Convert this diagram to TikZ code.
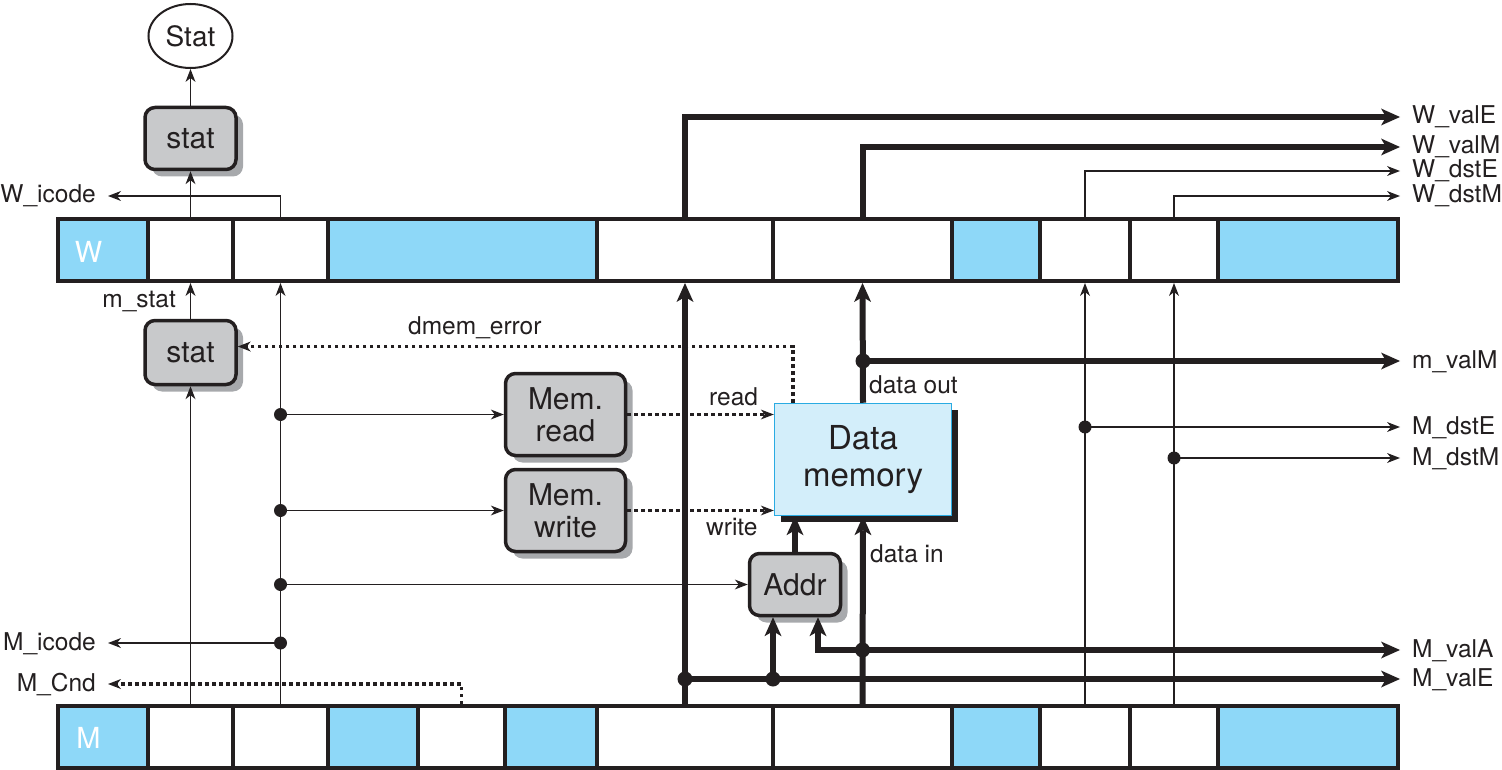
\documentclass[tikz,border=0pt]{standalone}
\usepackage{fontspec}
\setmainfont{TeX Gyre Heros}
\usetikzlibrary{
    calc,positioning,arrows.meta,shapes.geometric,
    shadows
}

\definecolor{ink}{HTML}{231F20}
\definecolor{regblue}{HTML}{8ED8F8}
\definecolor{logicgray}{HTML}{C8C9CB}
\definecolor{shadegray}{HTML}{A7A9AC}
\definecolor{memfill}{HTML}{D3EEFA}
\definecolor{memline}{HTML}{29ABE2}

\tikzset{
    cell/.style={draw=ink, line width=4pt, anchor=north west,
        minimum height=62pt, inner sep=0pt},
    regname/.style={text=white, font=\fontsize{29}{30}\selectfont},
    logic/.style={draw=ink, line width=3.5pt, fill=logicgray,
        rounded corners=10pt, inner sep=0pt, align=center, text=ink,
        font=\fontsize{30}{32}\selectfont,
        drop shadow={shadow xshift=7pt, shadow yshift=-7pt,
            fill=shadegray, opacity=1}},
    memblk/.style={draw=memline, line width=1.5pt, fill=memfill,
        inner sep=0pt, align=center, text=ink,
        font=\fontsize{33}{37}\selectfont,
        drop shadow={shadow xshift=6pt, shadow yshift=-6pt,
            fill=ink, opacity=1}},
    port/.style={text=ink, font=\fontsize{24.5}{26}\selectfont,
        inner xsep=12pt, inner ysep=0pt, text height=18pt, text depth=4pt},
    sig/.style={text=ink, font=\fontsize{24.5}{26}\selectfont, inner sep=0pt},
    wire/.style={draw=ink, line width=1.8pt,
        -{Stealth[length=13pt, width=10pt, inset=4pt, line width=0pt]}},
    bus/.style={draw=ink, line width=6pt,
        -{Stealth[length=19pt, width=17pt, inset=5pt, line width=0pt]}},
    ctl/.style={draw=ink, line width=3.5pt, dash pattern=on 3.5pt off 3.5pt,
        -{Stealth[length=13pt, width=10pt, inset=4pt, line width=0pt]}},
}

\begin{document}
\begin{tikzpicture}[x=1pt, y=-1pt]
                    \useasboundingbox (0,0) rectangle (1502,770);
                    % Pipeline registers
                    \foreach \n/\xa/\xb/\c in {1/58/148/regblue, 2/148/233/white,
                        3/233/328/white, 4/328/597/regblue, 5/597/773/white,
                        6/773/952/white, 7/952/1040/regblue, 8/1040/1130/white,
                        9/1130/1218/white, 10/1218/1398/regblue}
                        \node[cell, fill=\c, minimum width=\xb pt-\xa pt] (w\n) at (\xa-2,217) {};
                    \foreach \n/\xa/\xb/\c in {1/58/148/regblue, 2/148/233/white,
                        3/233/328/white, 4/328/418/regblue, 5/418/505/white,
                        6/505/597/regblue, 7/597/773/white, 8/773/952/white,
                        9/952/1040/regblue, 10/1040/1130/white,
                        11/1130/1218/white, 12/1218/1398/regblue}
                        \node[cell, fill=\c, minimum width=\xb pt-\xa pt] (m\n) at (\xa-2,704) {};
                    \node[regname] (wname) at (88.5,251.5) {W};
                    \node[regname] (mname) at (88.5,738) {M};
                    % Blocks
                    \node[draw=ink, line width=2pt, ellipse, minimum width=84pt,
                        minimum height=64pt, text=ink,
                        font=\fontsize{28}{30}\selectfont] (Stat) at (190.5,36) {Stat};
                    \node[logic, minimum width=91pt, minimum height=62pt] (wstat) at (190.5,138.5) {stat};
                    \node[logic, minimum width=91pt, minimum height=64pt] (mstat) at (190.5,352.5) {stat};
                    \node[logic, minimum width=120pt, minimum height=82pt] (memread) at (565.5,414.5) {Mem.\\read};
                    \node[logic, minimum width=120pt, minimum height=82pt] (memwrite) at (565.5,510.5) {Mem.\\write};
                    \node[logic, minimum width=91pt, minimum height=62pt] (addr) at (795,584.5) {Addr};
                    \node[memblk, minimum width=177pt, minimum height=112pt] (dmem) at (863,459.5) {Data\\memory};
                    \coordinate (addra) at ([xshift=-22pt]addr.south);
                    \coordinate (addrb) at ([xshift=23pt]addr.south);
                    % Labels
                    \node[port, anchor=west] (wvale) at (1400,117) {W\_valE};
                    \node[port, anchor=west] (wvalm) at (1400,147) {W\_valM};
                    \node[port, anchor=west] (wdste) at (1400,171) {W\_dstE};
                    \node[port, anchor=west] (wdstm) at (1400,196) {W\_dstM};
                    \node[port, anchor=west] (mvalm) at (1400,361) {m\_valM};
                    \node[port, anchor=west] (mdste) at (1400,427) {M\_dstE};
                    \node[port, anchor=west] (mdstm) at (1400,458) {M\_dstM};
                    \node[port, anchor=west] (mvala) at (1400,650) {M\_valA};
                    \node[port, anchor=west] (mvale) at (1400,679) {M\_valE};
                    \node[port, anchor=east] (wicode) at (108,196) {W\_icode};
                    \node[port, anchor=east] (micode) at (108,643) {M\_icode};
                    \node[port, anchor=east] (mcnd) at (108,684) {M\_Cnd};
                    \node[sig, anchor=base east] (mstatlbl) at (176,307) {m\_stat};
                    \node[sig, anchor=base west] (errlbl) at (408,334) {dmem\_error};
                    \node[sig, anchor=base west] (rdlbl) at (709,405) {read};
                    \node[sig, anchor=base west] (wrlbl) at (706,535) {write};
                    \node[sig, anchor=base west] (outlbl) at (869,393) {data out};
                    \node[sig, anchor=base west] (inlbl) at (870,562) {data in};
                    % Status
                    \draw[wire] (m2.north) -- (mstat.south);
                    \draw[wire] (mstat.north) -- (w2.south);
                    \draw[wire] (w2.north) -- (wstat.south);
                    \draw[wire] (wstat.north) -- (Stat.south);
                    \draw[ctl] ([xshift=-70pt]dmem.north) |- ([yshift=6pt]mstat.east);
                    % icode and Cnd
                    \draw[wire] (w3.north) |- (wicode.east);
                    \draw[wire] (m3.north) -- (w3.south);
                    \draw[wire] (m3.north |- memread.west) -- (memread.west);
                    \draw[wire] (m3.north |- memwrite.west) -- (memwrite.west);
                    \draw[wire] (m3.north |- addr.west) -- (addr.west);
                    \draw[wire] (m3.north |- micode.east) -- (micode.east);
                    \draw[ctl] (m5.north) |- (mcnd.east);
                    % Memory control
                    \draw[ctl] (memread.east) -- (memread.east -| dmem.west);
                    \draw[ctl] (memwrite.east) -- (memwrite.east -| dmem.west);
                    % Values
                    \draw[bus] (m7.north) -- (w5.south);
                    \draw[bus] (w5.north) |- (wvale.west);
                    \draw[bus] (m7.north |- mvale.west) -- (mvale.west);
                    \draw[bus] (addra |- mvale.west) -- (addra);
                    \draw[bus] (m8.north) -- (dmem.south);
                    \draw[bus] (m8.north |- mvala.west) -- (mvala.west);
                    \draw[bus] (m8.north |- mvala.west) -| (addrb);
                    \draw[bus] (addr.north) -- (addr.north |- dmem.south);
                    \draw[bus] (dmem.north) -- (w6.south);
                    \draw[bus] (dmem.north |- mvalm.west) -- (mvalm.west);
                    \draw[bus] (w6.north) |- (wvalm.west);
                    % Destinations
                    \draw[wire] (m10.north) -- (w8.south);
                    \draw[wire] (w8.north) |- (wdste.west);
                    \draw[wire] (m10.north |- mdste.west) -- (mdste.west);
                    \draw[wire] (m11.north) -- (w9.south);
                    \draw[wire] (w9.north) |- (wdstm.west);
                    \draw[wire] (m11.north |- mdstm.west) -- (mdstm.west);
                    % Taps
                    \foreach \p in {m3.north |- memread.west, m3.north |- memwrite.west,
                        m3.north |- addr.west, m3.north |- micode.east,
                        m10.north |- mdste.west, m11.north |- mdstm.west}
                        \fill[ink] (\p) circle (6.5pt);
                    \foreach \p in {m7.north |- mvale.west, addra |- mvale.west,
                        m8.north |- mvala.west, dmem.north |- mvalm.west}
                        \fill[ink] (\p) circle (7.5pt);
                \end{tikzpicture}
\end{document}
